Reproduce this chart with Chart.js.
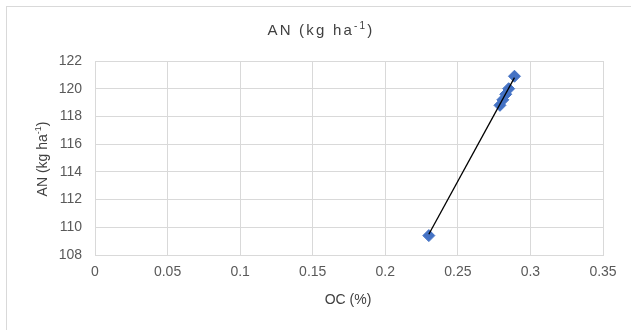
<!DOCTYPE html>
<html>
<head>
<meta charset="utf-8">
<script src="https://cdn.jsdelivr.net/npm/chart.js@4/dist/chart.umd.min.js"></script>
<style>
  body { margin: 0; background: #fff; }
  #wrap { width: 631px; height: 330px; }
</style>
</head>
<body>
<div id="wrap"><canvas id="myGraph"></canvas></div>
<script>
const graph = document.getElementById('myGraph');

// OC (%) against AN (kg/ha)
const ocValues = [0.23, 0.279, 0.281, 0.283, 0.285, 0.289];
const anValues = [109.4, 118.8, 119.2, 119.6, 120.0, 120.9];

// trendline ends
const trendX = [0.23, 0.289];
const trendY = [109.5, 120.8];

const xTicks = [0, 0.05, 0.1, 0.15, 0.2, 0.25, 0.3, 0.35];
const yTicks = [108, 110, 112, 114, 116, 118, 120, 122];

const font = "'Liberation Sans Narrow', 'Arial Narrow', 'Liberation Sans', sans-serif";

// draws "AN (kg ha" + superscript "-1" + ")"
function drawSup(ctx, x, y, size, spacing) {
  const base = 'AN (kg ha';
  const sup = '-1';
  const tail = ')';
  ctx.letterSpacing = spacing + 'px';
  ctx.font = size + 'px ' + font;
  const w1 = ctx.measureText(base).width;
  const w3 = ctx.measureText(tail).width;
  ctx.font = Math.round(size * 0.65) + 'px ' + font;
  const w2 = ctx.measureText(sup).width;
  let sx = x - (w1 + w2 + w3) / 2;
  ctx.textAlign = 'left';
  ctx.textBaseline = 'middle';
  ctx.font = size + 'px ' + font;
  ctx.fillText(base, sx, y);
  ctx.font = Math.round(size * 0.65) + 'px ' + font;
  ctx.fillText(sup, sx + w1, y - size * 0.35);
  ctx.font = size + 'px ' + font;
  ctx.fillText(tail, sx + w1 + w2, y);
  ctx.letterSpacing = '0px';
}

const decor = {
  id: 'decor',
  beforeDraw(chart) {
    const ctx = chart.ctx;
    ctx.save();
    ctx.strokeStyle = '#d9d9d9';
    ctx.lineWidth = 1;
    ctx.strokeRect(6.5, 6.5, 700, 400);
    ctx.restore();
  },
  afterDraw(chart) {
    const ctx = chart.ctx;
    ctx.save();
    ctx.fillStyle = '#404040';
    drawSup(ctx, 321, 31, 15, 2.2);
    ctx.fillStyle = '#404040';
    ctx.font = '14px ' + font;
    ctx.textAlign = 'center';
    ctx.textBaseline = 'middle';
    ctx.fillText('OC (%)', 348, 300);
    ctx.translate(43, 159);
    ctx.rotate(-Math.PI / 2);
    drawSup(ctx, 0, 0, 14, 0);
    ctx.restore();
  }
};

new Chart(graph, {
  type: 'scatter',
  data: {
    datasets: [{
      label: 'AN',
      data: ocValues.map((x, i) => ({ x: x, y: anValues[i] })),
      backgroundColor: '#4472c4',
      borderColor: '#4472c4',
      pointStyle: 'rectRot',
      pointRadius: 6,
      pointHoverRadius: 6,
      order: 2
    }, {
      label: 'Trend',
      type: 'line',
      data: trendX.map((x, i) => ({ x: x, y: trendY[i] })),
      borderColor: '#000',
      borderWidth: 1.3,
      pointRadius: 0,
      fill: false,
      order: 1
    }]
  },
  options: {
    responsive: true,
    maintainAspectRatio: false,
    animation: false,
    events: [],
    layout: { padding: { left: 0, top: 61, right: 28, bottom: 0 } },
    plugins: {
      legend: { display: false },
      tooltip: { enabled: false }
    },
    scales: {
      x: {
        type: 'linear',
        min: 0,
        max: 0.35,
        afterBuildTicks: (axis) => { axis.ticks = xTicks.map(v => ({ value: v })); },
        afterFit: (axis) => { axis.height = 75; },
        grid: { color: '#d9d9d9', drawTicks: false },
        border: { color: '#d9d9d9' },
        ticks: {
          padding: 9,
          color: '#595959',
          font: { family: font, size: 14 },
          callback: (v) => String(v)
        }
      },
      y: {
        min: 108,
        max: 122,
        afterBuildTicks: (axis) => { axis.ticks = yTicks.map(v => ({ value: v })); },
        afterFit: (axis) => { axis.width = 95; },
        grid: { color: '#d9d9d9', drawTicks: false },
        border: { color: '#d9d9d9' },
        ticks: {
          padding: 13,
          color: '#595959',
          font: { family: font, size: 14 }
        }
      }
    }
  },
  plugins: [decor]
});
</script>
</body>
</html>
